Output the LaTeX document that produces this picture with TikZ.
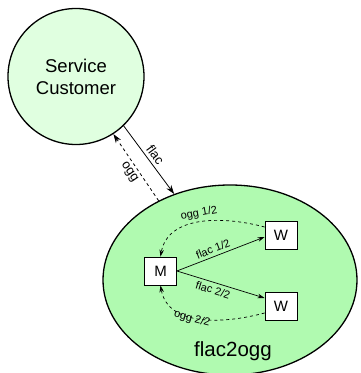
\documentclass[tikz,border=0pt]{standalone}
\usepackage{fontspec}
\setmainfont{Liberation Sans}
\usetikzlibrary{shapes.geometric,arrows.meta}
\definecolor{custfill}{RGB}{224,255,224}
\definecolor{procfill}{RGB}{176,250,176}
\tikzset{
  custnode/.style={circle,draw,line width=1.3pt,fill=custfill,minimum size=136pt,inner sep=0pt,align=center,font=\fontsize{18.5}{22}\selectfont},
  procnode/.style={ellipse,draw,line width=1.3pt,fill=procfill,minimum width=254pt,minimum height=190pt,inner sep=0pt},
  boxnode/.style={rectangle,draw,line width=0.8pt,fill=white,minimum width=32pt,minimum height=28pt,inner sep=0pt,font=\fontsize{15}{15}\selectfont},
  bigarrow/.style={line width=0.8pt,-{Stealth[length=9pt,width=6pt]}},
  smallarrow/.style={line width=0.7pt,-{Stealth[length=7pt,width=4.5pt]}},
  biglabel/.style={font=\fontsize{13}{13}\selectfont,inner sep=1pt},
  smalllabel/.style={font=\fontsize{11}{11}\selectfont,inner sep=0pt}
}
\begin{document}
\begin{tikzpicture}[x=1pt,y=1pt]
  \useasboundingbox (0,0) rectangle (360,373);
  % client and processing service
  \node[custnode] (cust) at (76,296.5) {Service\\Customer};
  \node[procnode] (proc) at (230,93) {};
  \node[font=\fontsize{20.5}{20.5}\selectfont] (proctitle) at (233,22) {flac2ogg};
  % master and workers
  \node[boxnode] (M) at (160.5,102) {M};
  \node[boxnode] (W1) at (281,138) {W};
  \node[boxnode] (W2) at (281,67) {W};
  % request and response between customer and service
  \draw[bigarrow] (cust.-46) -- (proc.123)
    node[biglabel,midway,sloped,above=2pt] (flaclbl) {flac};
  \draw[bigarrow,dashed] (proc.132) -- (cust.-57)
    node[biglabel,midway,sloped,below=2pt] (ogglbl) {ogg};
  % work distribution
  \draw[smallarrow] (M.east) -- ([yshift=-2pt]W1.west);
  \draw[smallarrow] (M.east) -- ([yshift=8pt]W2.west);
  \draw[smallarrow,dashed] ([yshift=8pt]W1.west) to[out=165,in=80] (M.north);
  \draw[smallarrow,dashed] ([yshift=-7pt]W2.west) to[out=195,in=-80] (M.south);
  \node[smalllabel,rotate=10] (o1) at (199,159.5) {ogg 1/2};
  \node[smalllabel,rotate=21] (f1) at (213,124) {flac 1/2};
  \node[smalllabel,rotate=-17] (f2) at (213,83) {flac 2/2};
  \node[smalllabel,rotate=-15] (o2) at (192,54) {ogg 2/2};
\end{tikzpicture}
\end{document}
